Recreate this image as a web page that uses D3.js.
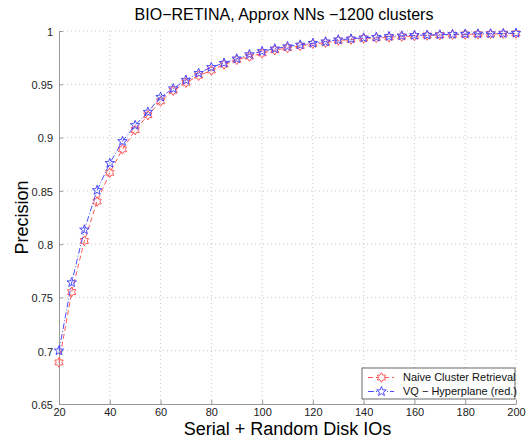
<!DOCTYPE html>
<html>
<head>
<meta charset="utf-8">
<script src="https://cdn.jsdelivr.net/npm/d3@7"></script>
<style>
body { margin: 0; background: #fff; }
text { font-family: "Liberation Sans", Arial, sans-serif; }
</style>
</head>
<body>
<div class="chart"></div>
<script>
// datos
var ios = [20, 25, 30, 35, 40, 45, 50, 55, 60, 65, 70, 75, 80, 85, 90, 95, 100, 105, 110, 115, 120,
  125, 130, 135, 140, 145, 150, 155, 160, 165, 170, 175, 180, 185, 190, 195, 200];
var naive = [0.689, 0.755, 0.803, 0.840, 0.867, 0.889, 0.907, 0.921, 0.934, 0.944, 0.9515, 0.958, 0.963,
  0.9685, 0.973, 0.976, 0.979, 0.982, 0.984, 0.986, 0.988, 0.989, 0.991, 0.992, 0.993, 0.9935, 0.994,
  0.9948, 0.9953, 0.9958, 0.9962, 0.9965, 0.9968, 0.997, 0.9972, 0.9975, 0.9977];
var vq = [0.700, 0.764, 0.8135, 0.8505, 0.876, 0.8965, 0.9115, 0.924, 0.938, 0.946, 0.954, 0.9605, 0.966,
  0.970, 0.974, 0.978, 0.981, 0.9834, 0.9855, 0.987, 0.9886, 0.990, 0.9918, 0.9927, 0.9936, 0.9943, 0.995,
  0.9955, 0.996, 0.9962, 0.9965, 0.9969, 0.9972, 0.9973, 0.9975, 0.9977, 0.998];
var xTicks = [20, 40, 60, 80, 100, 120, 140, 160, 180, 200];
var yTicks = [0.65, 0.7, 0.75, 0.8, 0.85, 0.9, 0.95, 1];
var seriesNames = ["Naive Cluster Retrieval", "VQ \u2212 Hyperplane (red.)"];

var w = 532, h = 440;
var mLeft = 59, mRight = 516, mTop = 31, mBottom = 404;

var svg = d3.select(".chart")
  .append("svg")
  .attr("width", w)
  .attr("height", h)
  .style("background", "#fff");

var x = d3.scaleLinear().domain([20, 200]).range([mLeft, mRight]);
var y = d3.scaleLinear().domain([0.65, 1]).range([mBottom, mTop]);

// rejilla punteada
svg.append("g").selectAll("line")
  .data(xTicks.slice(1))
  .enter().append("line")
  .attr("x1", function(d) { return x(d); })
  .attr("x2", function(d) { return x(d); })
  .attr("y1", mTop).attr("y2", mBottom)
  .attr("stroke", "#c8c8c8").attr("stroke-width", 1)
  .attr("stroke-dasharray", "1,3");
svg.append("g").selectAll("line")
  .data(yTicks.slice(1))
  .enter().append("line")
  .attr("x1", mLeft).attr("x2", mRight)
  .attr("y1", function(d) { return y(d); })
  .attr("y2", function(d) { return y(d); })
  .attr("stroke", "#c8c8c8").attr("stroke-width", 1)
  .attr("stroke-dasharray", "1,3");

// ejes
var xAxis = svg.append("g")
  .attr("transform", "translate(0," + mBottom + ")")
  .call(d3.axisBottom(x).tickValues(xTicks).tickSizeInner(-4).tickSizeOuter(0).tickPadding(5));
var yAxis = svg.append("g")
  .attr("transform", "translate(" + mLeft + ",0)")
  .call(d3.axisLeft(y).tickValues(yTicks).tickSizeInner(-4).tickSizeOuter(0).tickPadding(6)
    .tickFormat(function(d) { return d3.format("")(+d.toFixed(2)); }));
[xAxis, yAxis].forEach(function(a) {
  a.select(".domain").attr("stroke", "#999");
  a.selectAll(".tick line").attr("stroke", "#999");
  a.selectAll("text").attr("font-size", 11).attr("fill", "#222")
    .style("font-family", "'Liberation Sans', Arial, sans-serif");
});
xAxis.selectAll("text").attr("dy", "0.6em");
yAxis.selectAll("text").attr("dy", "0.4em");

function star(n, ro, ri) {
  var p = [];
  for (var i = 0; i < 2 * n; i++) {
    var a = Math.PI * i / n - Math.PI / 2;
    var r = i % 2 ? ri : ro;
    p.push([r * Math.cos(a), r * Math.sin(a)]);
  }
  return "M" + p.join("L") + "Z";
}
var hexagram = star(6, 4.8, 2.8);
var pentagram = star(5, 5, 2.1);

var series = [
  {name: seriesNames[0], values: naive, color: "#ff5a5a", dash: "5,3", marker: hexagram},
  {name: seriesNames[1], values: vq, color: "#4b4bff", dash: "6,2,1,2", marker: pentagram}
];

var line = d3.line()
  .x(function(d, i) { return x(ios[i]); })
  .y(function(d) { return y(d); });

var g = svg.selectAll("g.serie")
  .data(series)
  .enter()
  .append("g")
  .attr("class", "serie");
g.append("path")
  .attr("d", function(d) { return line(d.values); })
  .attr("fill", "none")
  .attr("stroke", function(d) { return d.color; })
  .attr("stroke-width", 1)
  .attr("stroke-dasharray", function(d) { return d.dash; });
g.each(function(s) {
  d3.select(this).selectAll("path.m")
    .data(s.values)
    .enter().append("path")
    .attr("class", "m")
    .attr("d", s.marker)
    .attr("transform", function(d, i) { return "translate(" + x(ios[i]) + "," + y(d) + ")"; })
    .attr("fill", "none")
    .attr("stroke", s.color)
    .attr("stroke-width", 1);
});

// leyenda
var lg = svg.append("g").attr("transform", "translate(362,368)");
lg.append("rect")
  .attr("width", 153).attr("height", 31)
  .attr("fill", "#fff").attr("stroke", "#444").attr("stroke-width", 0.8);
var li = lg.selectAll("g")
  .data(series)
  .enter()
  .append("g")
  .attr("transform", function(d, i) { return "translate(0," + (9.5 + i * 14) + ")"; });
li.append("line")
  .attr("x1", 6).attr("x2", 32)
  .attr("stroke", function(d) { return d.color; })
  .attr("stroke-dasharray", function(d) { return d.dash; });
li.append("path")
  .attr("d", function(d) { return d.marker; })
  .attr("transform", "translate(19.5,0)")
  .attr("fill", "#fff")
  .attr("stroke", function(d) { return d.color; });
li.append("text")
  .attr("x", 41).attr("dy", "0.35em")
  .attr("font-size", 11)
  .attr("fill", "#111")
  .text(function(d) { return d.name; });

// titulos
svg.append("text")
  .attr("x", 284).attr("y", 20)
  .attr("text-anchor", "middle")
  .attr("font-size", 16)
  .text("BIO\u2212RETINA, Approx NNs \u22121200 clusters");
svg.append("text")
  .attr("x", (mLeft + mRight) / 2).attr("y", 435)
  .attr("text-anchor", "middle")
  .attr("font-size", 18)
  .text("Serial + Random Disk IOs");
svg.append("text")
  .attr("transform", "translate(28," + (mTop + mBottom) / 2 + ") rotate(-90)")
  .attr("text-anchor", "middle")
  .attr("font-size", 18)
  .text("Precision");
</script>
</body>
</html>
